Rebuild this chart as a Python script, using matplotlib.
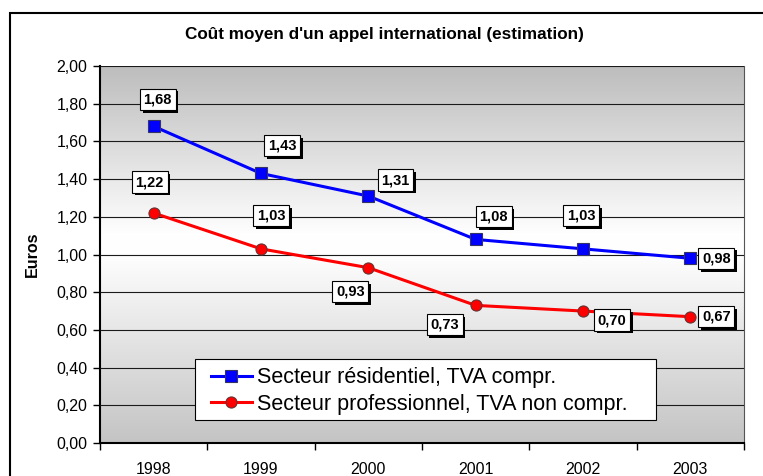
import matplotlib
matplotlib.use("Agg")
import matplotlib.pyplot as plt
import matplotlib.patheffects as pe
import numpy as np
from matplotlib.patches import Rectangle
from matplotlib.colors import LinearSegmentedColormap

years = ["1998", "1999", "2000", "2001", "2002", "2003"]
residentiel = [1.68, 1.43, 1.31, 1.08, 1.03, 0.98]
professionnel = [1.22, 1.03, 0.93, 0.73, 0.70, 0.67]
label_res = "Secteur résidentiel, TVA compr."
label_pro = "Secteur professionnel, TVA non compr."

# label offsets in pixels (dx, dy) from the point
off_res = [(4, 27), (21, 28), (27, 16), (18, 23), (-2, 33), (26, 0)]
off_pro = [(-4, 31), (10, 33), (-18, -24), (-31, -19), (29, -9), (26, 0)]

plt.rcParams.update({
    "font.family": ["Liberation Sans", "DejaVu Sans"],
    "font.size": 11.5,
})

W, H = 763, 476
fig = plt.figure(figsize=(W / 100, H / 100), dpi=100)
ax = fig.add_axes([100 / W, 1 - 443 / H, 644 / W, 377 / H])

x = np.arange(len(years))
ax.set_xlim(-0.5, len(years) - 0.5)
ax.set_ylim(0, 2.0)

# gradient background: gray top, white middle, gray bottom
cmap = LinearSegmentedColormap.from_list(
    "bg", [(0.0, "#c4c4c4"), (0.5, "#fefefe"), (0.55, "#ffffff"), (1.0, "#bdbdbd")])
grad = np.linspace(0, 1, 256).reshape(-1, 1)
ax.imshow(grad, cmap=cmap, aspect="auto", extent=(-0.5, len(years) - 0.5, 0, 2.0),
          origin="lower", zorder=0)

ax.set_yticks(np.arange(0, 2.01, 0.2))
ax.set_yticklabels([f"{v:.2f}".replace(".", ",") for v in np.arange(0, 2.01, 0.2)])
ax.yaxis.grid(True, color="#1a1a1a", linewidth=0.8, zorder=1)
ax.set_axisbelow(False)

ax.set_xticks(x)
ax.set_xticklabels(years)
ax.set_xticks(np.arange(-0.5, len(years)), minor=True)
ax.tick_params(axis="x", which="major", length=0, pad=14)
ax.tick_params(axis="x", which="minor", length=5, width=1, color="black")
ax.tick_params(axis="y", length=5, width=1, color="black", pad=4)

ax.spines["top"].set_visible(False)
ax.spines["right"].set_color("#555555")
ax.spines["left"].set_linewidth(1.5)
ax.spines["bottom"].set_linewidth(1.5)

ax.plot(x, residentiel, color="#0000ff", linewidth=2.2, marker="s", markersize=8,
        markerfacecolor="#0000ff", markeredgecolor="#333366", markeredgewidth=0.8,
        label=label_res, zorder=3)
ax.plot(x, professionnel, color="#ff0000", linewidth=2.2, marker="o", markersize=8,
        markerfacecolor="#ff0000", markeredgecolor="#663333", markeredgewidth=0.8,
        label=label_pro, zorder=3)


def label_points(vals, offs):
    for xi, v, (dx, dy) in zip(x, vals, offs):
        txt = f"{v:.2f}".replace(".", ",")
        ann = ax.annotate(txt, xy=(xi, v), xytext=(dx, dy), textcoords="offset pixels",
                          ha="center", va="center", fontsize=10.5, fontweight="bold",
                          color="black",
                          bbox=dict(boxstyle="square,pad=0.25", fc="white", ec="black", lw=0.8),
                          zorder=5)
        # dark drop shadow under the box
        ann.get_bbox_patch().set_path_effects([
            pe.SimplePatchShadow(offset=(2, -2), shadow_rgbFace="black", alpha=1.0),
            pe.Normal()])


label_points(residentiel, off_res)
label_points(professionnel, off_pro)

# legend box drawn by hand (wider padding than matplotlib's legend frame)
box = Rectangle((195 / W, 1 - 420 / H), 461 / W, 61 / H, transform=fig.transFigure,
                fc="white", ec="black", lw=0.8, zorder=5.5, clip_on=False)
ax.add_patch(box)
leg = ax.legend(loc="center left", bbox_to_anchor=(111 / 644, 52 / 377), fontsize=15.5,
                frameon=False, handlelength=1.9, handletextpad=0.25, borderpad=0,
                labelspacing=0.25, borderaxespad=0)
leg.set_zorder(6)

ax.set_ylabel("Euros", fontsize=11.5, fontweight="bold", labelpad=12)
fig.text(384 / W, 1 - 34 / H, "Coût moyen d'un appel international (estimation)",
         ha="center", va="center", fontsize=12.3, fontweight="bold")

# outer chart border
fig.patches.append(Rectangle((10 / W, -0.1), 1.1, 1 - 13 / H + 0.1,
                             transform=fig.transFigure, fill=False, ec="black",
                             lw=1.5, zorder=10))

fig.savefig("out.png", dpi=100)
